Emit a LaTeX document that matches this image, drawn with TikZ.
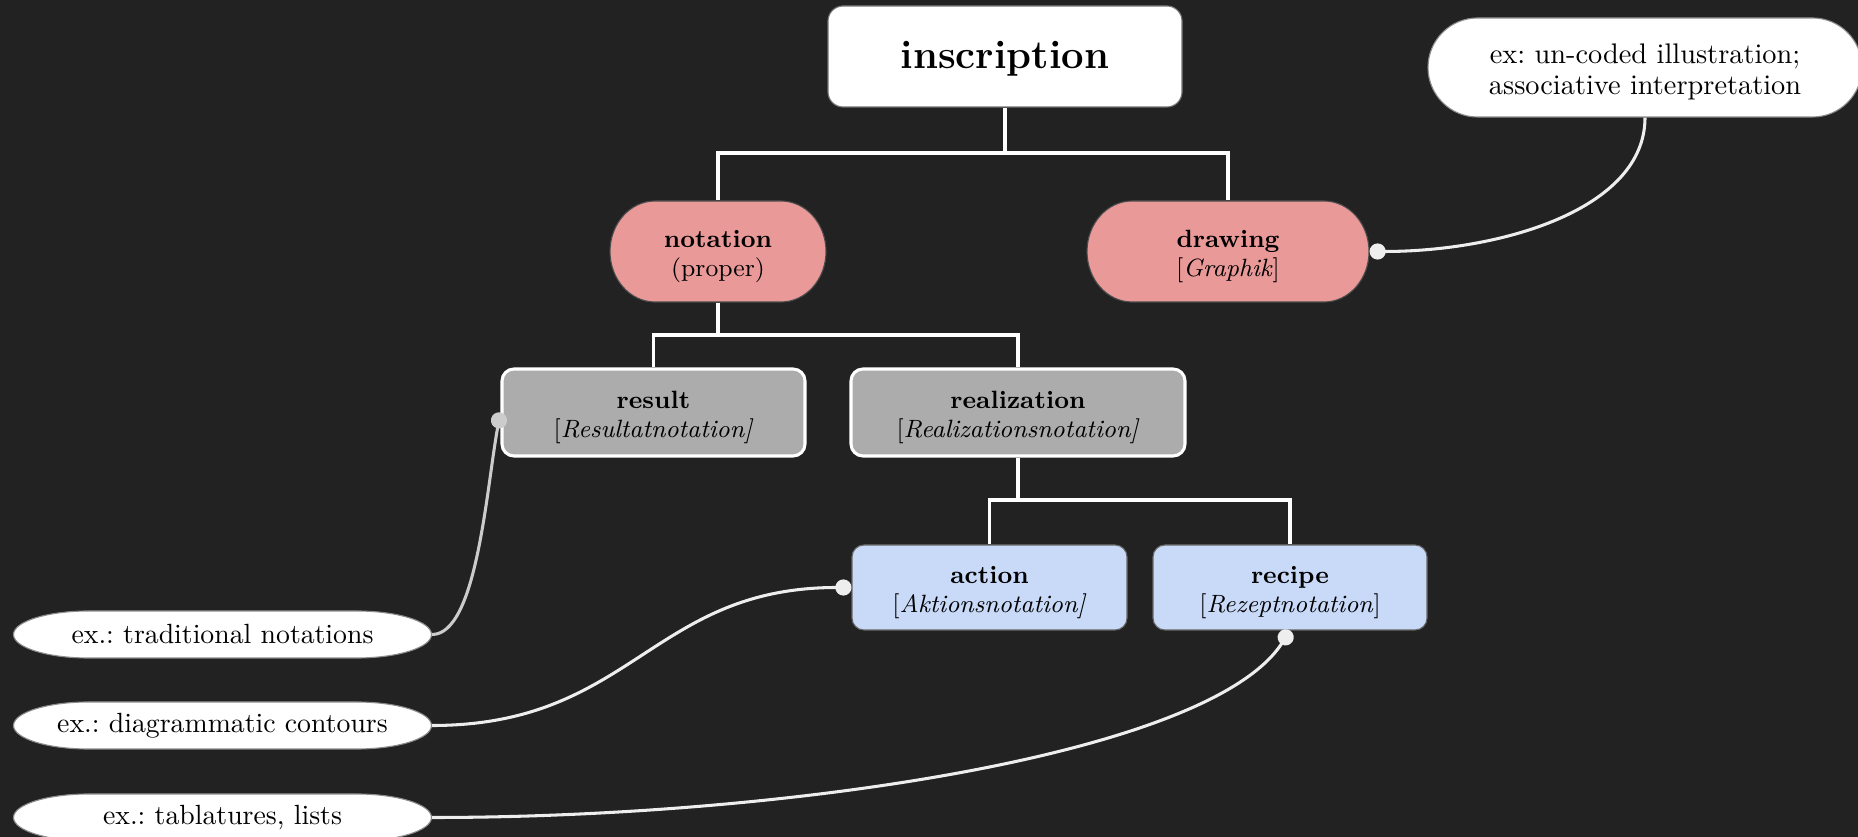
\documentclass[tikz,border=0pt]{standalone}
\usetikzlibrary{shapes.misc,arrows.meta}
\definecolor{bgc}{HTML}{222222}
\definecolor{pinkc}{HTML}{EA9999}
\definecolor{grayc}{HTML}{ACACAC}
\definecolor{bluec}{HTML}{C9DAF8}
\definecolor{linec}{HTML}{EEEEEE}
\definecolor{lgray}{HTML}{CCCCCC}
% elliptical-ended pill: #1 style, #2 centre x, #3 centre y, #4 half width, #5 half height, #6 end x-radius (all px)
\newcommand\pillshape[6]{%
  \filldraw[#1] (#2-#4+#6,#3-#5) -- (#2+#4-#6,#3-#5)
    arc[start angle=90,end angle=-90,x radius=#6*0.36pt,y radius=#5*0.36pt]
    -- (#2-#4+#6,#3+#5)
    arc[start angle=270,end angle=90,x radius=#6*0.36pt,y radius=#5*0.36pt]
    -- cycle;}
\begin{document}
\frenchspacing
\begin{tikzpicture}[x=0.36pt,y=-0.36pt,
  insbox/.style={rectangle, draw=black!55, fill=white, rounded corners=5.4pt,
    minimum width=354*0.36pt, minimum height=101*0.36pt, inner sep=0pt},
  pinkfill/.style={draw=black!70, fill=pinkc},
  pinkbox/.style={rectangle, minimum height=101*0.36pt, inner sep=0pt},
  graybox/.style={rectangle, rounded corners=4.3pt, draw=white, line width=1.1pt,
    fill=grayc, minimum height=87*0.36pt, inner sep=0pt},
  bluebox/.style={rectangle, rounded corners=4.3pt, draw=black!60, fill=bluec,
    minimum height=85*0.36pt, inner sep=0pt},
  exfill/.style={draw=black!45, fill=white},
  exbox/.style={rectangle, minimum width=418*0.36pt, minimum height=47*0.36pt, inner sep=0pt},
  exround/.style={rounded rectangle, draw=black!45, fill=white,
    minimum width=434*0.36pt, minimum height=99*0.36pt, inner sep=0pt},
  lbl/.style={align=center, inner sep=0pt, font=\fontsize{9}{10.3}\selectfont},
  exlbl/.style={align=center, inner sep=0pt, font=\fontsize{10}{12}\selectfont},
  tree/.style={draw=white, line width=1.1pt},
  conn/.style={draw=linec, line width=1.1pt, -{Circle[length=5.8pt]}},
  conng/.style={draw=lgray, line width=1.1pt, -{Circle[length=5.8pt]}}
]
\fill[bgc] (0,0) rectangle (1858,837);
\useasboundingbox (0,0) rectangle (1858,837);

% boxes
\node[insbox] (ins) at (1005,56.5) {};
\node[font=\fontsize{14.4}{17}\selectfont\bfseries, inner sep=0pt] (ins-t) at (1005,58.5) {inscription};
\node[exround] (uncoded) at (1645,67.5) {};
\node[align=center, inner sep=0pt, font=\fontsize{10.2}{11.2}\selectfont] (uncoded-t) at (1645,72) {ex: un-coded illustration;\\associative interpretation};

\pillshape{pinkfill}{718}{251.5}{108}{50.5}{45}
\node[pinkbox, minimum width=216*0.36pt] (notation) at (718,251.5) {};
\node[lbl] (notation-t) at (718,256.5) {\textbf{notation}\\(proper)};
\pillshape{pinkfill}{1228}{251.5}{141}{50.5}{45}
\node[pinkbox, minimum width=282*0.36pt] (drawing) at (1228,251.5) {};
\node[lbl] (drawing-t) at (1228,256.5) {\textbf{drawing}\\{[}\textit{Graphik}{]}};

\node[graybox, minimum width=303*0.36pt] (result) at (653.5,412.5) {};
\node[lbl] (result-t) at (653.5,417.5) {\textbf{result}\\{[}\textit{Resultatnotation]}};
\node[graybox, minimum width=334*0.36pt] (realization) at (1018,412.5) {};
\node[lbl] (realization-t) at (1018,417.5) {\textbf{realization}\\{[}\textit{Realizationsnotation]}};

\node[bluebox, minimum width=275*0.36pt] (action) at (989.5,587.5) {};
\node[lbl] (action-t) at (989.5,592.5) {\textbf{action}\\{[}\textit{Aktionsnotation]}};
\node[bluebox, minimum width=274*0.36pt] (recipe) at (1290,587.5) {};
\node[lbl] (recipe-t) at (1290,592.5) {\textbf{recipe}\\{[}\textit{Rezeptnotation}{]}};

% example pills
\pillshape{exfill}{222.5}{634.5}{209}{23.5}{75}
\node[exbox] (trad) at (222.5,634.5) {};
\node[exlbl] (trad-t) at (222.5,634.5) {ex.: traditional notations};
\pillshape{exfill}{222.5}{725.5}{209}{23.5}{75}
\node[exbox] (diag) at (222.5,725.5) {};
\node[exlbl] (diag-t) at (222.5,725.5) {ex.: diagrammatic contours};
\pillshape{exfill}{222.5}{817.5}{209}{23.5}{75}
\node[exbox] (tab) at (222.5,817.5) {};
\node[exlbl] (tab-t) at (222.5,817.5) {ex.: tablatures, lists};

% tree connectors
\coordinate (j1) at (1005,153);
\coordinate (j2) at (718,335);
\coordinate (j3) at (1018,500);
\draw[tree] (ins.south) -- (j1);
\draw[tree] (notation.north) |- (j1) -| (drawing.north);
\draw[tree] (notation.south) -- (j2);
\draw[tree] (result.north) |- (j2) -| (realization.north);
\draw[tree] (realization.south) -- (j3);
\draw[tree] (action.north) |- (j3) -| (recipe.north);

% example connectors
\draw[conn] (uncoded.south) .. controls +(0,92) and +(131,0) .. (drawing.east);
\draw[conng] (trad.east) .. controls +(45,0) and +(-14,75) .. (result.west);
\draw[conn] (diag.east) .. controls +(200,0) and +(-200,0) .. (action.west);
\draw[conn] (tab.east) .. controls +(350,0) and +(-80,125) .. (recipe.south);
\end{tikzpicture}
\end{document}
